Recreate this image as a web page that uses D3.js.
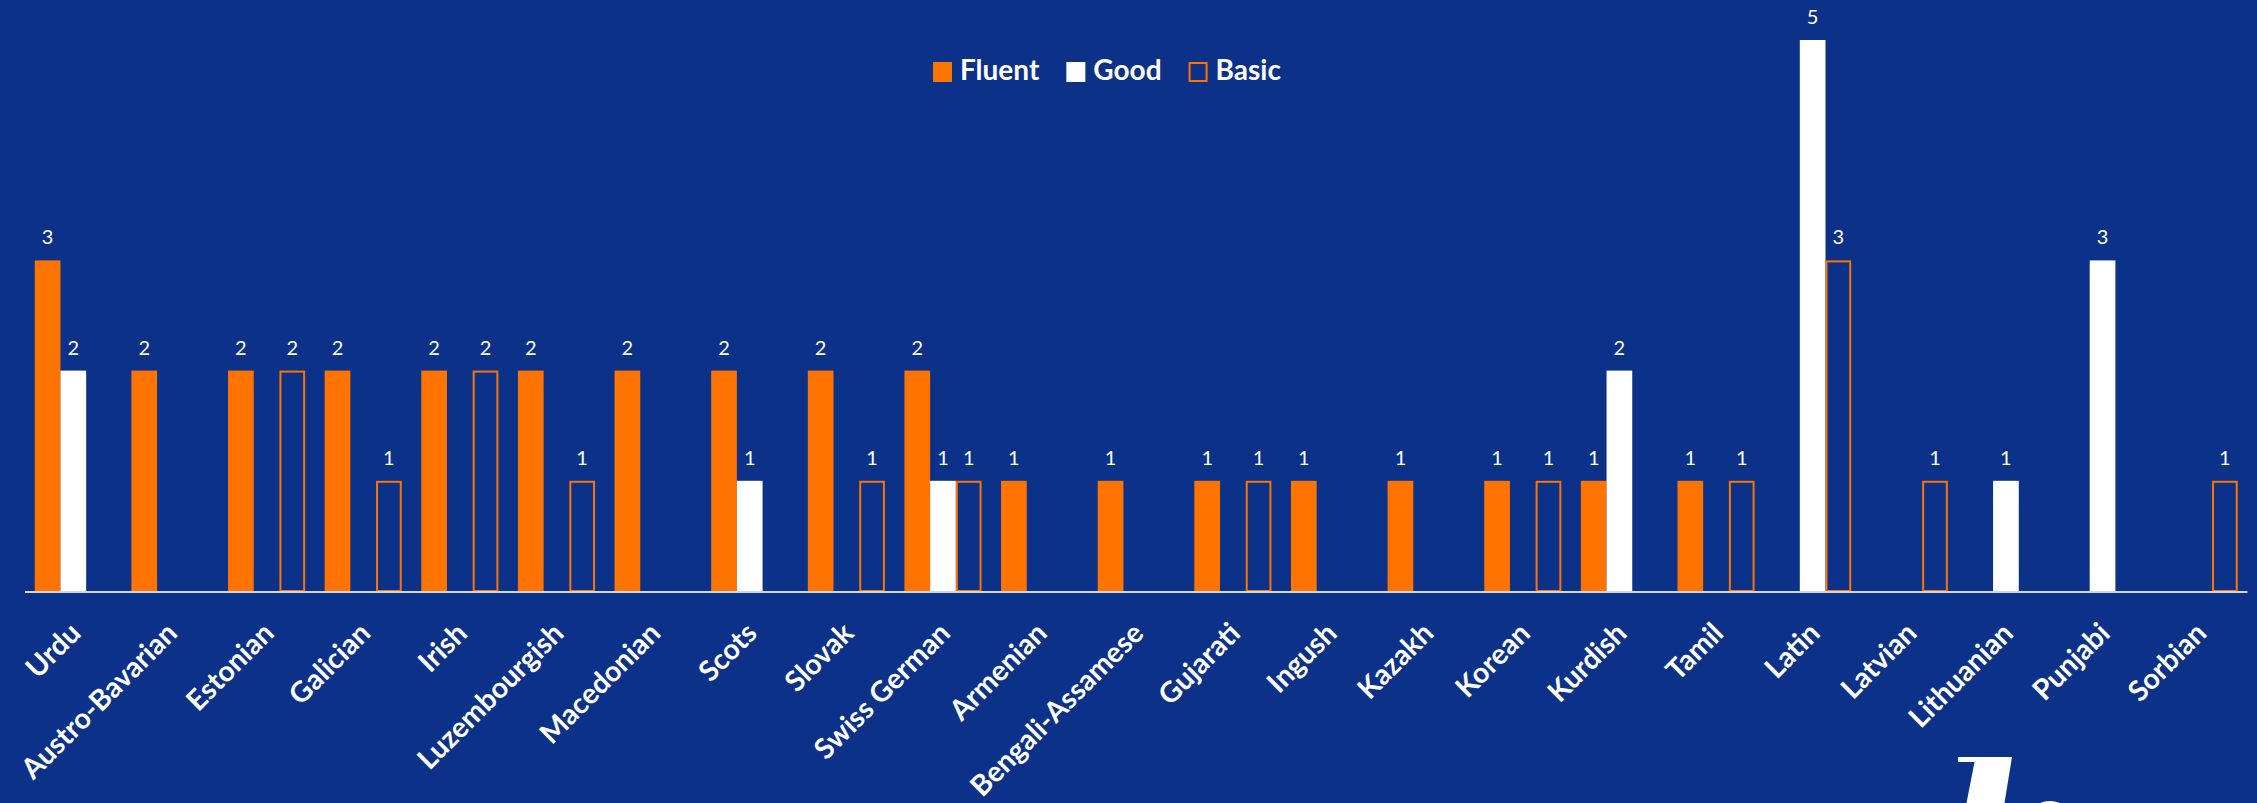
<!DOCTYPE html>
<html>
<head>
<meta charset="utf-8">
<script src="https://cdn.jsdelivr.net/npm/d3@7"></script>
<style>
  html, body { margin: 0; padding: 0; background: #0b3189; }
  svg { display: block; }
  text { font-family: Lato, "Open Sans", sans-serif; fill: #ffffff; }
</style>
</head>
<body>
<svg id="chart" width="2257" height="803"></svg>
<script>
const categories = ["Urdu", "Austro-Bavarian", "Estonian", "Galician", "Irish", "Luzembourgish",
  "Macedonian", "Scots", "Slovak", "Swiss German", "Armenian", "Bengali-Assamese", "Gujarati",
  "Ingush", "Kazakh", "Korean", "Kurdish", "Tamil", "Latin", "Latvian", "Lithuanian", "Punjabi", "Sorbian"];
const seriesNames = ["Fluent", "Good", "Basic"];
const fluent = [3, 2, 2, 2, 2, 2, 2, 2, 2, 2, 1, 1, 1, 1, 1, 1, 1, 1, null, null, null, null, null];
const good   = [2, null, null, null, null, null, null, 1, null, 1, null, null, null, null, null, null, 2, null, 5, null, 1, 3, null];
const basic  = [null, null, 2, 1, 2, 1, null, null, 1, 1, null, null, 1, null, null, 1, null, 1, 3, 1, null, null, 1];
const yDomain = [0, 5];

const W = 2257, H = 803;
const BG = "#0b3189", ORANGE = "#ff7300", WHITE = "#ffffff";
const svg = d3.select("#chart");
svg.append("rect").attr("width", W).attr("height", H).attr("fill", BG);

const plot = { left: 25, right: 2247.5, base: 591, top: 40 };
const x0 = d3.scaleBand().domain(categories).range([plot.left, plot.right]).padding(0);
const x1 = d3.scaleBand().domain(seriesNames).range([0, x0.bandwidth()]).paddingInner(0).paddingOuter(0.38);
const y = d3.scaleLinear().domain(yDomain).range([plot.base, plot.top]);

const seriesData = { Fluent: fluent, Good: good, Basic: basic };
const rows = [];
seriesNames.forEach(s => {
  seriesData[s].forEach((v, i) => {
    if (v != null && v > 0) rows.push({ s, cat: categories[i], v });
  });
});

const g = svg.append("g");
// bars
g.selectAll("rect.bar").data(rows).join("rect")
  .attr("class", "bar")
  .attr("x", d => x0(d.cat) + x1(d.s) + (d.s === "Basic" ? 1 : 0))
  .attr("y", d => y(d.v) + (d.s === "Basic" ? 1 : 0))
  .attr("width", d => x1.bandwidth() - (d.s === "Basic" ? 2 : 0))
  .attr("height", d => plot.base - y(d.v) - (d.s === "Basic" ? 1 : 0))
  .attr("fill", d => d.s === "Fluent" ? ORANGE : d.s === "Good" ? WHITE : "none")
  .attr("stroke", d => d.s === "Basic" ? ORANGE : "none")
  .attr("stroke-width", 2);

// axis line
svg.append("line")
  .attr("x1", plot.left).attr("x2", plot.right)
  .attr("y1", plot.base + 1).attr("y2", plot.base + 1)
  .attr("stroke", "#d4d6dc").attr("stroke-width", 2.2);

// value labels
g.selectAll("text.val").data(rows).join("text")
  .attr("class", "val")
  .attr("x", d => x0(d.cat) + x1(d.s) + x1.bandwidth() / 2)
  .attr("y", d => y(d.v) - 16)
  .attr("text-anchor", "middle")
  .attr("font-size", 20)
  .text(d => d.v);

// category labels
const xAxis = d3.axisBottom(x0).tickSize(0).tickPadding(0);
const ax = svg.append("g").attr("transform", `translate(0,${plot.base})`).call(xAxis);
ax.select(".domain").remove();
ax.selectAll(".tick text")
  .attr("transform", "translate(9,44) rotate(-45)")
  .attr("text-anchor", "end")
  .attr("dy", 0)
  .attr("y", 0)
  .attr("x", 0)
  .attr("font-size", 28.5)
  .attr("font-weight", "bold")
  .attr("font-family", "Lato, 'Open Sans', sans-serif")
  .attr("fill", WHITE);

// legend
const legend = svg.append("g");
let lx = 933;
seriesNames.forEach(s => {
  const item = legend.append("g");
  if (s === "Basic") {
    item.append("rect").attr("x", lx + 1).attr("y", 63).attr("width", 17).attr("height", 18)
      .attr("fill", "none").attr("stroke", ORANGE).attr("stroke-width", 2);
  } else {
    item.append("rect").attr("x", lx).attr("y", 62).attr("width", 19).attr("height", 20)
      .attr("fill", s === "Fluent" ? ORANGE : WHITE);
  }
  const t = item.append("text").attr("x", lx + 27).attr("y", 80)
    .attr("font-size", 28).attr("font-weight", "bold").text(s);
  lx += 27 + t.node().getComputedTextLength() + 27;
});

// partial logo shape at bottom right
svg.append("path")
  .attr("d", "M1958,757 L2012,757 L2004.5,803 L1966.5,803 L1974.5,762 L1958,762 Z")
  .attr("fill", WHITE);
svg.append("ellipse").attr("cx", 2050).attr("cy", 832).attr("rx", 28).attr("ry", 31).attr("fill", WHITE);
</script>
</body>
</html>
